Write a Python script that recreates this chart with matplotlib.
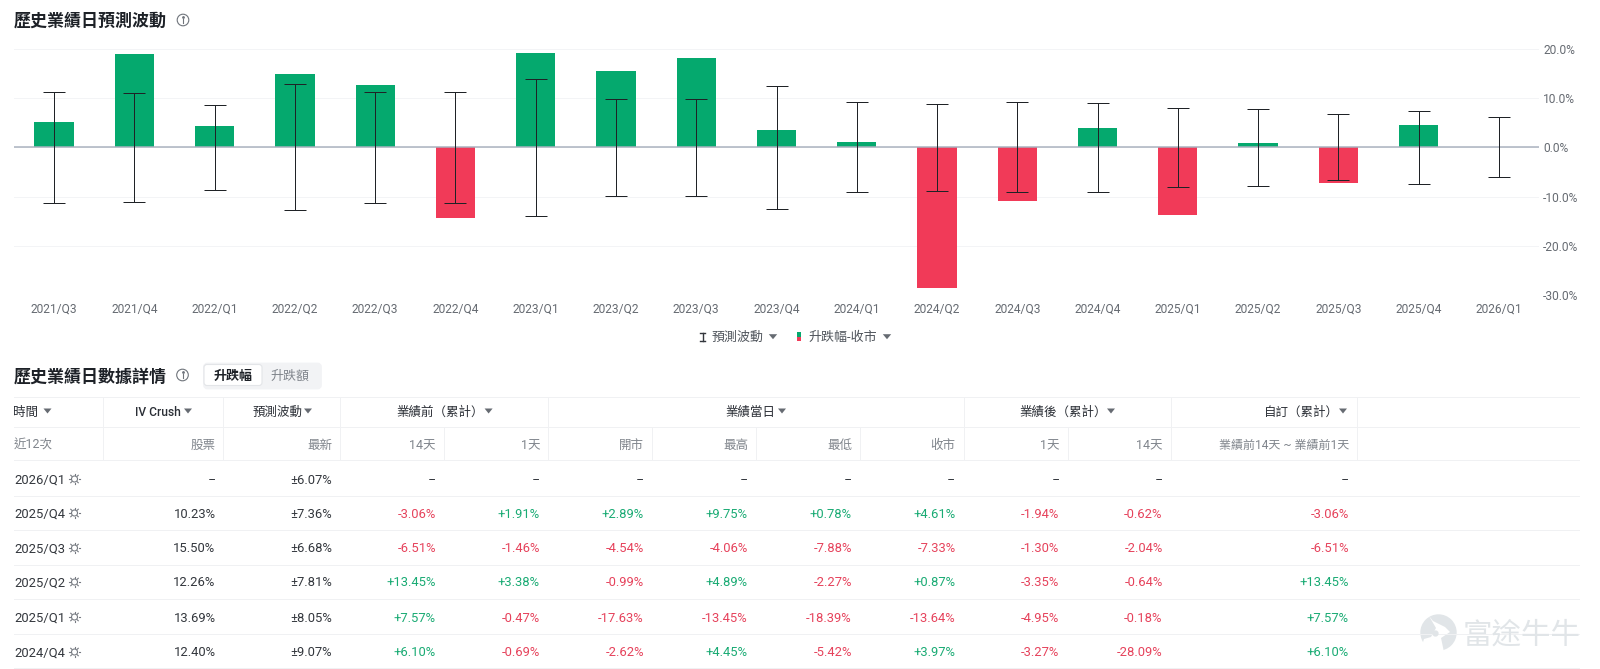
import numpy as np
import matplotlib
matplotlib.use('Agg')
import matplotlib.pyplot as plt
from matplotlib.patches import Circle, FancyBboxPatch, Polygon, Rectangle

plt.rcParams['font.family'] = ['Roboto', 'Noto Sans CJK TC', 'DejaVu Sans']

W, H = 1600, 669
PX = 0.72  # points per pixel at dpi 100

GREEN = '#05a96e'
RED = '#f13a58'
TXT_GREEN = '#1aab74'
TXT_RED = '#e6435c'
LINE = '#f0f1f3'
DARK = '#2b2f36'
GRAY = '#80858c'
MARK = '#e1e5e8'

# chart data
quarters = ['2021/Q3', '2021/Q4', '2022/Q1', '2022/Q2', '2022/Q3', '2022/Q4', '2023/Q1',
            '2023/Q2', '2023/Q3', '2023/Q4', '2024/Q1', '2024/Q2', '2024/Q3', '2024/Q4',
            '2025/Q1', '2025/Q2', '2025/Q3', '2025/Q4', '2026/Q1']
close_change = [5.1, 18.9, 4.3, 14.8, 12.6, -14.3, 19.1, 15.5, 18.1, 3.5, 1.1, -28.6,
                -10.8, 3.97, -13.64, 0.87, -7.33, 4.61, np.nan]
implied_move = [11.3, 11.1, 8.55, 12.75, 11.3, 11.2, 13.95, 9.9, 9.8, 12.5, 9.1, 8.8,
                9.1, 9.07, 8.05, 7.81, 6.68, 7.36, 6.07]
y_ticks = [20, 10, 0, -10, -20, -30]

# table data
row_times = ['2026/Q1', '2025/Q4', '2025/Q3', '2025/Q2', '2025/Q1', '2024/Q4']
iv_crush = ['--', '10.23%', '15.50%', '12.26%', '13.69%', '12.40%']
move_latest = ['±6.07%', '±7.36%', '±6.68%', '±7.81%', '±8.05%', '±9.07%']
before_14d = ['--', '-3.06%', '-6.51%', '+13.45%', '+7.57%', '+6.10%']
before_1d = ['--', '+1.91%', '-1.46%', '+3.38%', '-0.47%', '-0.69%']
day_open = ['--', '+2.89%', '-4.54%', '-0.99%', '-17.63%', '-2.62%']
day_high = ['--', '+9.75%', '-4.06%', '+4.89%', '-13.45%', '+4.45%']
day_low = ['--', '+0.78%', '-7.88%', '-2.27%', '-18.39%', '-5.42%']
day_close = ['--', '+4.61%', '-7.33%', '+0.87%', '-13.64%', '+3.97%']
after_1d = ['--', '-1.94%', '-1.30%', '-3.35%', '-4.95%', '-3.27%']
after_14d = ['--', '-0.62%', '-2.04%', '-0.64%', '-0.18%', '-28.09%']
custom_range = ['--', '-3.06%', '-6.51%', '+13.45%', '+7.57%', '+6.10%']

fig = plt.figure(figsize=(W / 100, H / 100), dpi=100, facecolor='white')

# bar chart, placed in pixel terms
left, right, top, bottom = 14, 1539, 48.7, 295.3
ax = fig.add_axes([left / W, 1 - bottom / H, (right - left) / W, (bottom - top) / H])
x = np.arange(len(quarters))
bar_colors = [GREEN if v >= 0 else RED for v in np.nan_to_num(close_change)]
ax.bar(x, close_change, width=0.49, color=bar_colors, zorder=2)
ax.axhline(0, color='#a9b1be', lw=1.5 * PX, zorder=3)
ax.errorbar(x, np.zeros(len(x)), yerr=implied_move, fmt='none', ecolor='#1f2226',
            elinewidth=1.0 * PX, capsize=11.5 * PX, capthick=1.0 * PX, zorder=4)
ax.set_xlim(-0.5, len(x) - 0.5)
ax.set_ylim(-30, 20)
ax.set_xticks(x, quarters)
ax.set_yticks(y_ticks, ['%.1f%%' % v for v in y_ticks])
ax.yaxis.tick_right()
ax.tick_params(length=0, labelsize=12 * PX, labelcolor='#666b72')
ax.tick_params(axis='x', pad=5.5)
ax.tick_params(axis='y', pad=3)
ax.grid(axis='y', color='#f3f4f6', lw=1.0 * PX, zorder=0)
ax.set_axisbelow(True)
for s in ax.spines.values():
    s.set_visible(False)

# everything else sits on an overlay measured in pixels
ui = fig.add_axes([0, 0, 1, 1], zorder=5)
ui.set_xlim(0, W)
ui.set_ylim(H, 0)
ui.axis('off')
ui.patch.set_alpha(0)


def label(px, py, s, size=12.5, color=DARK, ha='left', weight='normal'):
    ui.text(px, py, s, fontsize=size * PX, color=color, ha=ha, va='center', fontweight=weight)


def caret(px, py, color='#666b72', w=4.2, h=5):
    ui.add_patch(Polygon([(px - w, py - h / 2), (px + w, py - h / 2), (px, py + h / 2)],
                         closed=True, fc=color, ec='none'))


def info_icon(px, py):
    ui.add_patch(Circle((px, py), 5.8, fc='none', ec='#6f747b', lw=0.8))
    ui.plot([px, px], [py - 1, py + 3.2], color='#6f747b', lw=0.8)
    ui.plot([px], [py - 3], marker='o', ms=1.0, color='#6f747b')


def sun_icon(px, py, color='#777b82'):
    ui.add_patch(Circle((px, py), 3.0, fc='none', ec=color, lw=0.8))
    for a in np.arange(8) * np.pi / 4:
        ui.plot([px + 4.0 * np.cos(a), px + 5.3 * np.cos(a)],
                [py + 4.0 * np.sin(a), py + 5.3 * np.sin(a)], color=color, lw=0.8)


# section titles
label(14, 20, '歷史業績日預測波動', 17, '#1d2127', weight='bold')
info_icon(183, 20)
label(14, 376, '歷史業績日數據詳情', 17, '#1d2127', weight='bold')
info_icon(182.5, 375)

# legend under the chart
ui.plot([702.5, 702.5], [333, 341], color='#33373d', lw=1.0)
ui.plot([700, 705], [333, 333], color='#33373d', lw=1.0)
ui.plot([700, 705], [341, 341], color='#33373d', lw=1.0)
label(712, 337.5, '預測波動', 13, '#50555c')
caret(773, 336.7)
ui.add_patch(Rectangle((797, 332), 3.5, 5, fc=GREEN, ec='none'))
ui.add_patch(Rectangle((797, 337), 3.5, 4, fc=RED, ec='none'))
label(808, 337.5, '升跌幅-收市', 13, '#50555c')
caret(887, 336.7)

# percent / amount switch
ui.add_patch(FancyBboxPatch((204.5, 364), 116, 24, boxstyle='round,pad=0,rounding_size=3',
                            fc='#f2f3f5', ec='#f2f3f5', lw=2))
ui.add_patch(FancyBboxPatch((204, 364.5), 58, 21, boxstyle='round,pad=0,rounding_size=3',
                            fc='white', ec='#e3e5e8', lw=0.8))
label(233, 376, '升跌幅', 13, '#1d2127', ha='center', weight='bold')
label(290, 376, '升跌額', 13, '#80858c', ha='center')

# table rules
row_rules = [397, 427, 460, 496, 530, 565, 599, 634, 668]
head_rules = [102.5, 223, 340, 548, 964, 1171, 1356.5]
sub_rules = [102.5, 223, 340, 444, 548, 652, 756, 860, 964, 1067.5, 1171, 1356.5]
for ry in row_rules:
    ui.plot([14, 1579], [ry, ry], color=LINE, lw=1.0 * PX)
for rx in head_rules:
    ui.plot([rx, rx], [397, 427], color=LINE, lw=1.0 * PX)
for rx in sub_rules:
    ui.plot([rx, rx], [427, 460], color=LINE, lw=1.0 * PX)

# header groups: text, text left edge, font size, caret centre
head_y, sub_y = 412.5, 445.5
for s, tx, fs, cx in [('時間', 13.5, 12.5, 47.5), ('IV Crush', 135, 12, 188),
                      ('預測波動', 253, 12.5, 308), ('業績前（累計）', 396.5, 12.5, 488.6),
                      ('業績當日', 725.5, 12.5, 782), ('業績後（累計）', 1019.5, 12.5, 1111),
                      ('自訂（累計）', 1263.5, 12.5, 1343)]:
    label(tx, head_y, s, fs, '#2b2f36', weight='medium')
    caret(cx, 411, w=4)

# second header row, right edges line up with the value columns
label(14, sub_y, '近12次', 12.5, GRAY)
for s, rx in [('股票', 215.6), ('最新', 332.4), ('14天', 436), ('1天', 540), ('開市', 644),
              ('最高', 748), ('最低', 852), ('收市', 955.5), ('1天', 1059.6), ('14天', 1162.7),
              ('業績前14天 ~ 業績前1天', 1349)]:
    label(rx, sub_y, s, 12 if '~' in s else 12.5, GRAY, ha='right')

# table body
row_ys = [480, 514, 549, 583, 618, 653]
value_cols = [(before_14d, 436), (before_1d, 540), (day_open, 644), (day_high, 748),
              (day_low, 852), (day_close, 955.5), (after_1d, 1059.6), (after_14d, 1162.7),
              (custom_range, 1349)]
for i, ry in enumerate(row_ys):
    label(14, ry, row_times[i], 13, '#33373d')
    sun_icon(74.5, ry - 1)
    label(215.6, ry, iv_crush[i], 13, '#33373d', ha='right')
    label(332.4, ry, move_latest[i], 13, '#33373d', ha='right')
    for col, rx in value_cols:
        s = col[i]
        c = '#33373d' if s == '--' else (TXT_GREEN if s[0] == '+' else TXT_RED)
        label(rx, ry, s, 13, c, ha='right')

# watermark, bottom right
ui.add_patch(Circle((1438.5, 632.5), 18.2, fc=MARK, ec='none'))
ui.add_patch(Polygon([(1429, 616), (1433, 621), (1445, 627), (1450, 632), (1441, 638),
                      (1444, 652), (1420, 652), (1424, 639), (1431, 637), (1436, 628)],
                     closed=True, fc='white', ec='none'))
ui.plot([1435], [633], marker='o', ms=3.5, color=MARK)
label(1463, 636, '富途牛牛', 29.5, MARK)

fig.savefig('out.png', dpi=100, facecolor='white')
